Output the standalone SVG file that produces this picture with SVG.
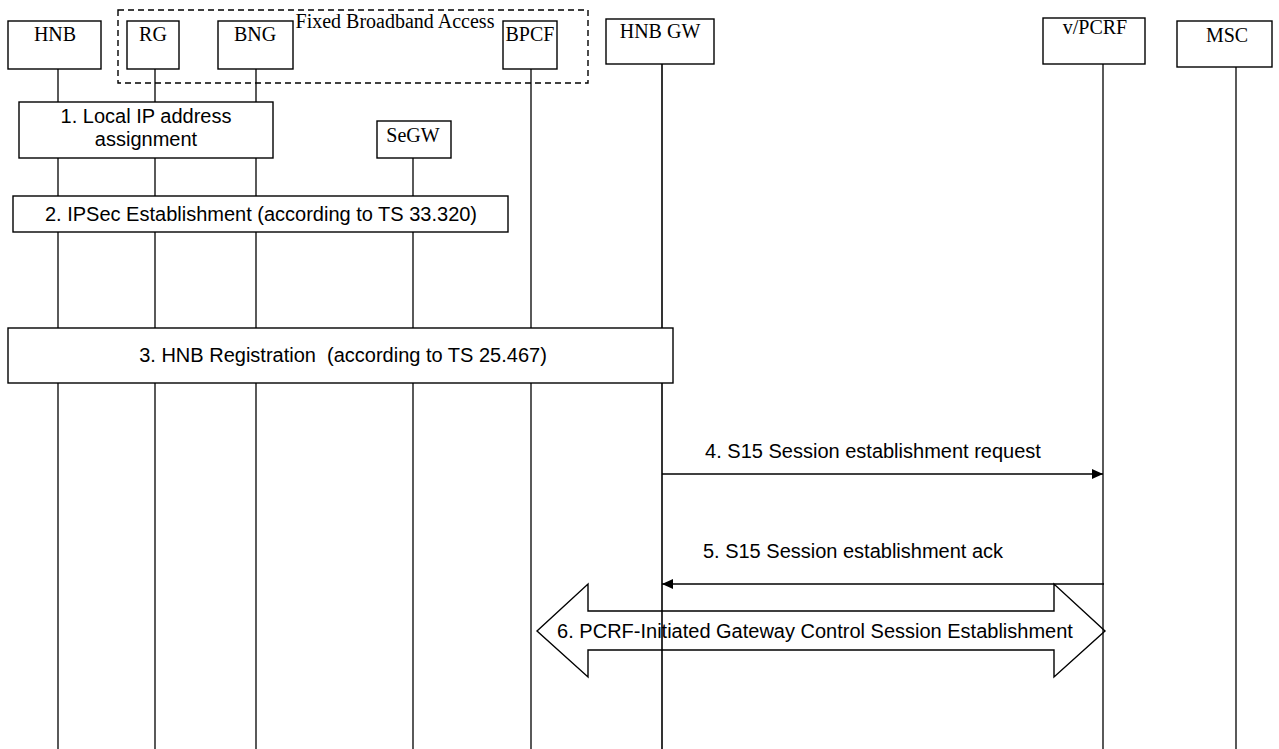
<svg xmlns="http://www.w3.org/2000/svg" width="1279" height="749" viewBox="0 0 1279 749">
<defs>
<style>
.box{fill:#fff;stroke:#000;stroke-width:1.4}
.life{stroke:#000;stroke-width:1.3;fill:none}
.ent{font-family:"Liberation Serif","Times New Roman",serif;font-size:20px;fill:#000;text-anchor:middle}
.lbl{font-family:"Liberation Sans",Arial,sans-serif;font-size:20px;fill:#000;text-anchor:middle}
.msg{stroke:#000;stroke-width:1.4;fill:none}
</style>
<marker id="ah" markerWidth="12" markerHeight="10" refX="11" refY="5" orient="auto" markerUnits="userSpaceOnUse">
<path d="M0,0 L11,5 L0,10 Z" fill="#000"/>
</marker>
</defs>
<rect width="1279" height="749" fill="#fff"/>

<g id="lifelines">
<line class="life" x1="58" y1="69" x2="58" y2="749"/>
<line class="life" x1="155" y1="69" x2="155" y2="749"/>
<line class="life" x1="256" y1="69" x2="256" y2="749"/>
<line class="life" x1="413" y1="158" x2="413" y2="749"/>
<line class="life" x1="531" y1="69" x2="531" y2="749"/>
<line class="life" x1="662" y1="64" x2="662" y2="749" style="stroke-width:1.6"/>
<line class="life" x1="1103" y1="64" x2="1103" y2="749"/>
<line class="life" x1="1236" y1="67" x2="1236" y2="749"/>
</g>

<g id="fixed-broadband-access">
<rect x="118" y="10" width="470" height="73" fill="none" stroke="#000" stroke-width="1.4" stroke-dasharray="6,4"/>
<text class="ent" x="395" y="28">Fixed Broadband Access</text>
</g>

<g id="node-hnb"><rect class="box" x="8" y="21" width="93" height="48"/><text class="ent" x="55" y="41">HNB</text></g>
<g id="node-rg"><rect class="box" x="127" y="21" width="52" height="48"/><text class="ent" x="153" y="41">RG</text></g>
<g id="node-bng"><rect class="box" x="218" y="21" width="75" height="48"/><text class="ent" x="255" y="41">BNG</text></g>
<g id="node-bpcf"><rect class="box" x="503" y="21" width="54" height="48"/><text class="ent" x="530" y="41">BPCF</text></g>
<g id="node-hnbgw"><rect class="box" x="606" y="19" width="108" height="45"/><text class="ent" x="660" y="38">HNB GW</text></g>
<g id="node-vpcrf"><rect class="box" x="1043" y="18" width="102" height="46"/><text class="ent" x="1095" y="34">v/PCRF</text></g>
<g id="node-msc"><rect class="box" x="1177" y="21" width="95" height="46"/><text class="ent" x="1227" y="42">MSC</text></g>
<g id="node-segw"><rect class="box" x="377" y="121" width="74" height="37"/><text class="ent" x="413" y="142">SeGW</text></g>

<g id="step1"><rect class="box" x="19" y="102" width="254" height="56"/>
<text class="lbl" x="146" y="123">1. Local IP address</text>
<text class="lbl" x="146" y="146">assignment</text></g>

<g id="step2"><rect class="box" x="13" y="196" width="495" height="36"/>
<text class="lbl" x="261" y="221">2. IPSec Establishment (according to TS 33.320)</text></g>

<g id="step3"><rect class="box" x="8" y="328" width="665" height="55"/>
<text class="lbl" x="343" y="362" xml:space="preserve">3. HNB Registration  (according to TS 25.467)</text></g>

<g id="connectors">
<line class="msg" x1="662" y1="474" x2="1103" y2="474" marker-end="url(#ah)"/>
<text class="lbl" x="873" y="458">4. S15 Session establishment request</text>
<line class="msg" x1="1104" y1="584" x2="662" y2="584" marker-end="url(#ah)"/>
<text class="lbl" x="853" y="558">5. S15 Session establishment ack</text>
<polygon class="msg" points="537,631 588,584 588,611 1054,611 1054,584 1105,631 1054,677 1054,650 588,650 588,677"/>
<text class="lbl" x="815" y="638">6. PCRF-Initiated Gateway Control Session Establishment</text>
</g>
</svg>
